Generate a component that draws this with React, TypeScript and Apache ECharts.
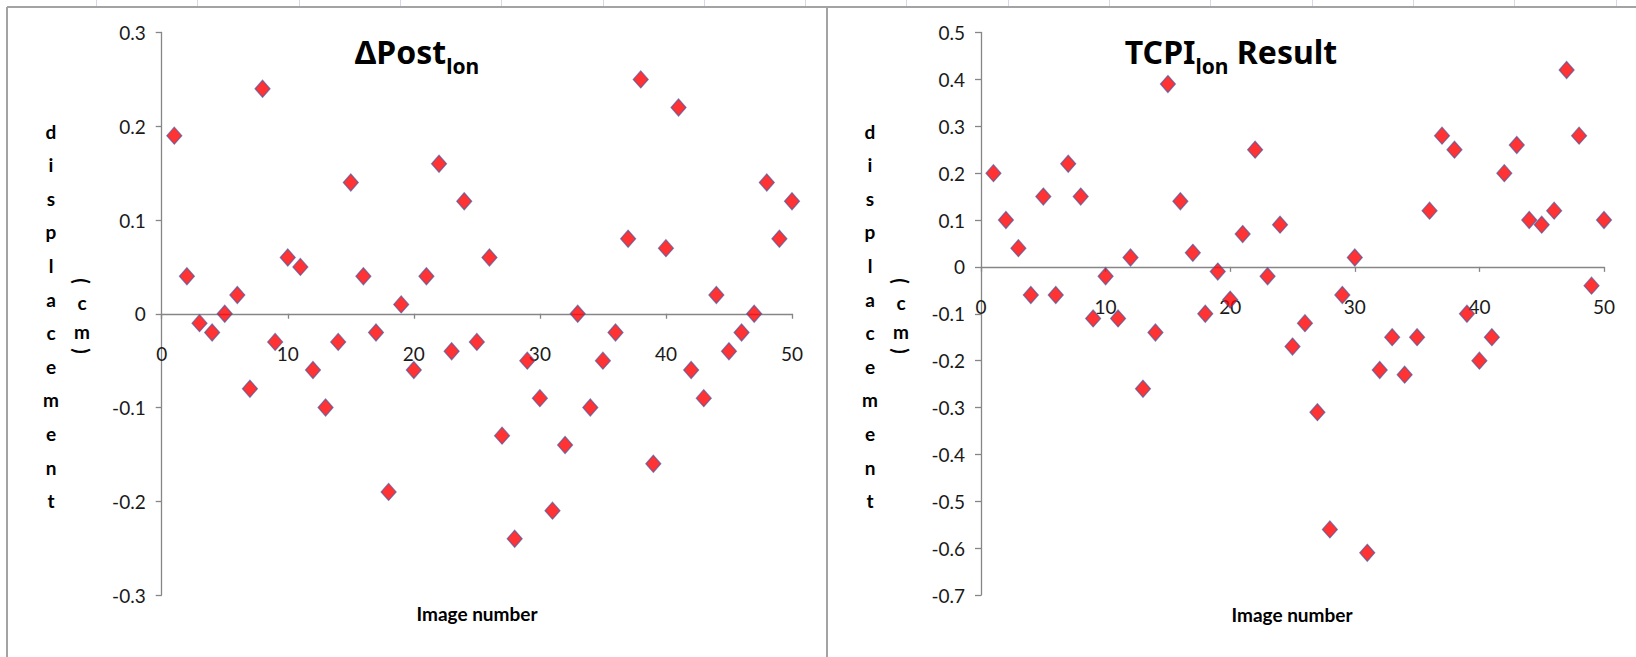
import React, { useEffect, useRef } from 'react';
import * as echarts from 'echarts';

// Image numbers (x values)
const imageNumbers = [
  1, 2, 3, 4, 5, 6, 7, 8, 9, 10,
  11, 12, 13, 14, 15, 16, 17, 18, 19, 20,
  21, 22, 23, 24, 25, 26, 27, 28, 29, 30,
  31, 32, 33, 34, 35, 36, 37, 38, 39, 40,
  41, 42, 43, 44, 45, 46, 47, 48, 49, 50,
];

// ΔPost_lon displacement (cm)
const postLon = [
  0.19, 0.04, -0.01, -0.02, 0.0, 0.02, -0.08, 0.24, -0.03, 0.06,
  0.05, -0.06, -0.1, -0.03, 0.14, 0.04, -0.02, -0.19, 0.01, -0.06,
  0.04, 0.16, -0.04, 0.12, -0.03, 0.06, -0.13, -0.24, -0.05, -0.09,
  -0.21, -0.14, 0.0, -0.1, -0.05, -0.02, 0.08, 0.25, -0.16, 0.07,
  0.22, -0.06, -0.09, 0.02, -0.04, -0.02, 0.0, 0.14, 0.08, 0.12,
];

// TCPI_lon result displacement (cm)
const tcpiLon = [
  0.2, 0.1, 0.04, -0.06, 0.15, -0.06, 0.22, 0.15, -0.11, -0.02,
  -0.11, 0.02, -0.26, -0.14, 0.39, 0.14, 0.03, -0.1, -0.01, -0.07,
  0.07, 0.25, -0.02, 0.09, -0.17, -0.12, -0.31, -0.56, -0.06, 0.02,
  -0.61, -0.22, -0.15, -0.23, -0.15, 0.12, 0.28, 0.25, -0.1, -0.2,
  -0.15, 0.2, 0.26, 0.1, 0.09, 0.12, 0.42, 0.28, -0.04, 0.1,
];

// Axis ranges
const xRange = [0, 50];
const xStep = 10;
const leftYRange = [-0.3, 0.3];
const rightYRange = [-0.7, 0.5];
const yStep = 0.1;

const yAxisLetters = 'displacement';
const unitLetters = ['(', 'c', 'm', ')'];
const xAxisName = 'Image number';

const FONT = 'Lato, "Noto Sans", sans-serif';
const TFONT = '"Noto Sans", sans-serif';
const AXIS_COLOR = '#868686';
const TEXT_COLOR = '#1a1a1a';
const FRAME_COLOR = '#a3a3a3';

const GRID_TOP = 32.5;
const GRID_H = 562.5;

function measure(text: string, font: string): number {
  const ctx = document.createElement('canvas').getContext('2d');
  if (!ctx) return text.length * 15;
  ctx.font = font;
  return ctx.measureText(text).width;
}

type Part = { text: string; size: number; dy: number };

function buildTitle(parts: Part[], centerX: number, midY: number) {
  const widths = parts.map((p) => measure(p.text, `bold ${p.size}px ${TFONT}`));
  const total = widths.reduce((a, b) => a + b, 0);
  let x = centerX - total / 2;
  return parts.map((p, i) => {
    const el = {
      type: 'text',
      x,
      y: midY + p.dy,
      style: {
        text: p.text,
        fontFamily: TFONT,
        fontWeight: 'bold',
        fontSize: p.size,
        fill: '#000',
        textAlign: 'left',
        textVerticalAlign: 'middle',
      },
    };
    x += widths[i];
    return el;
  });
}

function buildYName(letterX: number, unitX: number) {
  const els: any[] = [];
  yAxisLetters.split('').forEach((ch, i) => {
    els.push({
      type: 'text',
      x: letterX,
      y: 131 + i * 33.6,
      style: {
        text: ch,
        fontFamily: FONT,
        fontWeight: 'bold',
        fontSize: 19,
        fill: '#000',
        textAlign: 'center',
        textVerticalAlign: 'middle',
      },
    });
  });
  const unitY = [281, 302, 331, 351];
  unitLetters.forEach((ch, i) => {
    const paren = ch === '(' || ch === ')';
    els.push({
      type: 'text',
      x: unitX,
      y: unitY[i],
      rotation: paren ? -Math.PI / 2 : 0,
      style: {
        text: ch,
        fontFamily: FONT,
        fontWeight: 'bold',
        fontSize: paren ? 20 : 19,
        fill: '#000',
        textAlign: 'center',
        textVerticalAlign: 'middle',
      },
    });
  });
  return els;
}

function xName(cx: number, cy: number) {
  return {
    type: 'text',
    x: cx,
    y: cy,
    style: {
      text: xAxisName,
      fontFamily: FONT,
      fontWeight: 'bold',
      fontSize: 19,
      fill: '#000',
      textAlign: 'center',
      textVerticalAlign: 'middle',
    },
  };
}

const fmt = (v: number) => {
  const r = Math.round(v * 10) / 10;
  return r === 0 ? '0' : String(r);
};

// x axis sits on y = 0: shift it up from the grid bottom by the share of the range below zero
function makeXAxis(gridIndex: number, yRange: number[]) {
  const zeroShare = (0 - yRange[0]) / (yRange[1] - yRange[0]);
  return {
    gridIndex,
    type: 'value',
    position: 'bottom',
    offset: -GRID_H * zeroShare,
    min: xRange[0],
    max: xRange[1],
    interval: xStep,
    axisLine: { show: true, onZero: false, lineStyle: { color: AXIS_COLOR, width: 1.3 } },
    axisTick: { show: true, inside: false, length: 5, lineStyle: { color: AXIS_COLOR, width: 1.3 } },
    axisLabel: { margin: 30, color: TEXT_COLOR, fontFamily: FONT, fontSize: 19 },
    splitLine: { show: false },
  };
}

function makeYAxis(gridIndex: number, range: number[]) {
  return {
    gridIndex,
    type: 'value',
    min: range[0],
    max: range[1],
    interval: yStep,
    axisLine: { show: true, onZero: false, lineStyle: { color: AXIS_COLOR, width: 1.3 } },
    axisTick: { show: true, inside: false, length: 6, lineStyle: { color: AXIS_COLOR, width: 1.3 } },
    axisLabel: { margin: 16, color: TEXT_COLOR, fontFamily: FONT, fontSize: 19, formatter: fmt },
    splitLine: { show: false },
  };
}

const markerStyle = {
  color: '#ff0000',
  borderColor: 'rgba(70,85,160,0.85)',
  borderWidth: 1.2,
};

export default function App() {
  const ref = useRef<HTMLDivElement>(null);

  useEffect(() => {
    if (!ref.current) return;
    const chart = echarts.init(ref.current, null, { renderer: 'svg' });

    const gridTicks: any[] = [];
    for (let k = 0; k < 16; k++) {
      const gx = Math.round(96 + k * 101.3) + 0.5;
      gridTicks.push({
        type: 'line',
        shape: { x1: gx, y1: 0, x2: gx, y2: 6 },
        style: { stroke: '#d5d9e6', lineWidth: 1 },
      });
    }

    const frame = [
      { type: 'line', shape: { x1: 7, y1: 7, x2: 1636, y2: 7 }, style: { stroke: FRAME_COLOR, lineWidth: 2 } },
      { type: 'line', shape: { x1: 7, y1: 7, x2: 7, y2: 657 }, style: { stroke: FRAME_COLOR, lineWidth: 2 } },
      { type: 'line', shape: { x1: 827, y1: 7, x2: 827, y2: 657 }, style: { stroke: FRAME_COLOR, lineWidth: 2 } },
    ];

    const leftTitle = buildTitle(
      [
        { text: 'ΔPost', size: 32, dy: 0 },
        { text: 'lon', size: 21, dy: 15 },
      ],
      417,
      51
    );
    const rightTitle = buildTitle(
      [
        { text: 'TCPI', size: 32, dy: 0 },
        { text: 'lon', size: 21, dy: 15 },
        { text: ' Result', size: 32, dy: 0 },
      ],
      1231,
      51
    );

    chart.setOption({
      animation: false,
      backgroundColor: '#ffffff',
      grid: [
        { left: 161.7, top: GRID_TOP, width: 630.3, height: GRID_H },
        { left: 981, top: GRID_TOP, width: 623, height: GRID_H },
      ],
      xAxis: [makeXAxis(0, leftYRange), makeXAxis(1, rightYRange)],
      yAxis: [makeYAxis(0, leftYRange), makeYAxis(1, rightYRange)],
      series: [
        {
          type: 'scatter',
          name: 'ΔPost lon',
          xAxisIndex: 0,
          yAxisIndex: 0,
          symbol: 'diamond',
          symbolSize: [15, 17],
          itemStyle: markerStyle,
          data: imageNumbers.map((n, i) => [n, postLon[i]]),
        },
        {
          type: 'scatter',
          name: 'TCPI lon Result',
          xAxisIndex: 1,
          yAxisIndex: 1,
          symbol: 'diamond',
          symbolSize: [15, 17],
          itemStyle: markerStyle,
          data: imageNumbers.map((n, i) => [n, tcpiLon[i]]),
        },
      ],
      graphic: [
        ...gridTicks,
        ...frame,
        ...leftTitle,
        ...rightTitle,
        ...buildYName(51, 82),
        ...buildYName(870, 901),
        xName(477, 613),
        xName(1292, 614),
      ],
    });

    return () => chart.dispose();
  }, []);

  return (
    <div
      ref={ref}
      style={{ position: 'fixed', left: 0, top: 0, width: 1636, height: 657, background: '#fff' }}
    />
  );
}
